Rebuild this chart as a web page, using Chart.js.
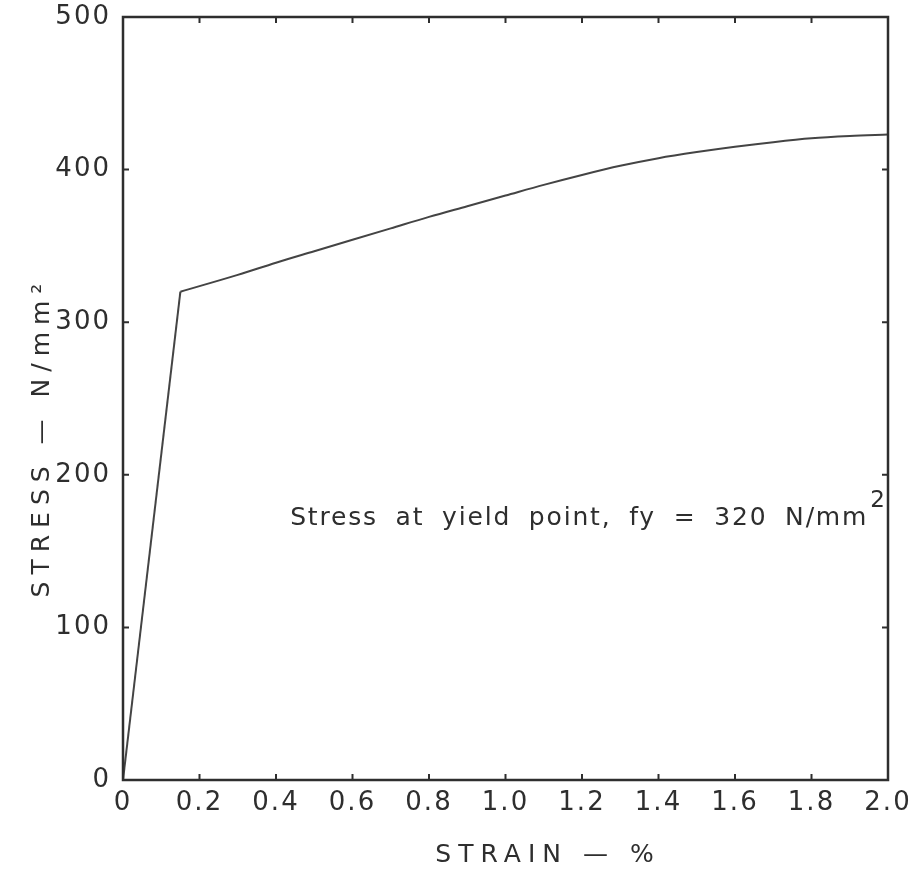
<!DOCTYPE html>
<html>
<head>
<meta charset="utf-8">
<script src="https://cdn.jsdelivr.net/npm/chart.js@4.4.1/dist/chart.umd.min.js"></script>
<style>
  html, body { margin: 0; padding: 0; background: #ffffff; }
  #wrap { width: 920px; height: 872px; }
</style>
</head>
<body>
<div id="wrap"><canvas id="c" width="920" height="872"></canvas></div>
<script>
// ---- data ----
const elasticStrain = [0, 0.15];
const elasticStress = [0, 320];
const plasticStrain = [0.15, 0.3, 0.4, 0.5, 0.6, 0.7, 0.8, 0.9, 1.0, 1.1, 1.2, 1.3, 1.4, 1.5, 1.6, 1.7, 1.8, 1.9, 2.0];
const plasticStress = [320, 331, 339, 346.5, 354, 361.5, 369, 376, 383, 390, 396.5, 402.5, 407.5, 411.5, 415, 418, 420.5, 422, 423];
const xTickLabels = ['0', '0.2', '0.4', '0.6', '0.8', '1.0', '1.2', '1.4', '1.6', '1.8', '2.0'];
const yTickLabels = ['0', '100', '200', '300', '400', '500'];
const xTitle = 'STRAIN — %';
const yTitle = 'STRESS — N/mm²';
const noteText = 'Stress at yield point, fy = 320 N/mm';
const noteSup = '2';
const noteAt = { x: 0.437, y: 167 };

const INK = '#2e2e2e';
const FONT = '"DejaVu Sans", sans-serif';

const toPts = (xs, ys) => xs.map((s, i) => ({ x: s, y: ys[i] }));

const spacing = {
  id: 'spacing',
  beforeDraw(chart) { chart.ctx.letterSpacing = '2px'; }
};

const frameAndText = {
  id: 'frameAndText',
  afterDatasetsDraw(chart) {
    const { ctx, chartArea: a, scales } = chart;
    const xs = scales.x, ys = scales.y;
    ctx.save();
    ctx.strokeStyle = INK;
    ctx.lineWidth = 2.5;
    ctx.strokeRect(a.left, a.top, a.right - a.left, a.bottom - a.top);
    ctx.lineWidth = 2;
    const tl = 6;
    xTickLabels.forEach((_, i) => {
      const px = xs.getPixelForValue(i * 0.2);
      ctx.beginPath();
      ctx.moveTo(px, a.bottom); ctx.lineTo(px, a.bottom - tl);
      ctx.moveTo(px, a.top); ctx.lineTo(px, a.top + tl);
      ctx.stroke();
    });
    yTickLabels.forEach((_, i) => {
      const py = ys.getPixelForValue(i * 100);
      ctx.beginPath();
      ctx.moveTo(a.left, py); ctx.lineTo(a.left + tl, py);
      ctx.moveTo(a.right, py); ctx.lineTo(a.right - tl, py);
      ctx.stroke();
    });
    // axis titles
    ctx.fillStyle = INK;
    ctx.font = '25px ' + FONT;
    ctx.letterSpacing = '7px';
    ctx.textAlign = 'center';
    ctx.textBaseline = 'middle';
    ctx.fillText(xTitle, 548, 855);
    ctx.save();
    ctx.translate(42, 437);
    ctx.rotate(-Math.PI / 2);
    ctx.fillText(yTitle, 0, 0);
    ctx.restore();
    // annotation
    ctx.font = '25px ' + FONT;
    ctx.textAlign = 'left';
    ctx.textBaseline = 'alphabetic';
    ctx.wordSpacing = '8px';
    ctx.letterSpacing = '0px';
    const target = 578;
    const w0 = ctx.measureText(noteText).width;
    const ls = Math.max(0, (target - w0) / noteText.length);
    ctx.letterSpacing = ls.toFixed(2) + 'px';
    const nx = xs.getPixelForValue(noteAt.x), ny = ys.getPixelForValue(noteAt.y);
    ctx.fillText(noteText, nx, ny);
    const w1 = ctx.measureText(noteText).width;
    ctx.font = '23px ' + FONT;
    ctx.letterSpacing = '0px';
    ctx.wordSpacing = '0px';
    ctx.fillText(noteSup, nx + w1 + 2, ny - 18);
    ctx.restore();
  }
};

const lineStyle = {
  showLine: true,
  borderColor: '#444444',
  borderWidth: 2,
  pointRadius: 0,
  fill: false
};

new Chart(document.getElementById('c'), {
  type: 'scatter',
  data: {
    datasets: [
      Object.assign({ data: toPts(elasticStrain, elasticStress), tension: 0 }, lineStyle),
      Object.assign({ data: toPts(plasticStrain, plasticStress), cubicInterpolationMode: 'monotone' }, lineStyle)
    ]
  },
  options: {
    responsive: false,
    animation: false,
    layout: { padding: { top: 17, right: 32, left: 0, bottom: 0 } },
    plugins: { legend: { display: false }, tooltip: { enabled: false } },
    scales: {
      x: {
        type: 'linear', min: 0, max: 2,
        grid: { display: false, drawTicks: false },
        border: { display: false },
        afterFit(s) { s.height = 92; s.paddingLeft = 0; s.paddingRight = 0; },
        afterBuildTicks(s) { s.ticks = xTickLabels.map((_, i) => ({ value: i * 0.2 })); },
        ticks: {
          color: INK, padding: 8,
          font: { family: FONT, size: 26 },
          maxRotation: 0, autoSkip: false,
          callback: (v, i) => xTickLabels[i]
        }
      },
      y: {
        type: 'linear', min: 0, max: 500,
        grid: { display: false, drawTicks: false },
        border: { display: false },
        afterFit(s) { s.width = 123; s.paddingTop = 0; s.paddingBottom = 0; },
        afterBuildTicks(s) { s.ticks = yTickLabels.map((_, i) => ({ value: i * 100 })); },
        ticks: {
          color: INK, padding: 12,
          font: { family: FONT, size: 26 },
          autoSkip: false,
          callback: (v, i) => yTickLabels[i]
        }
      }
    }
  },
  plugins: [spacing, frameAndText]
});
</script>
</body>
</html>
